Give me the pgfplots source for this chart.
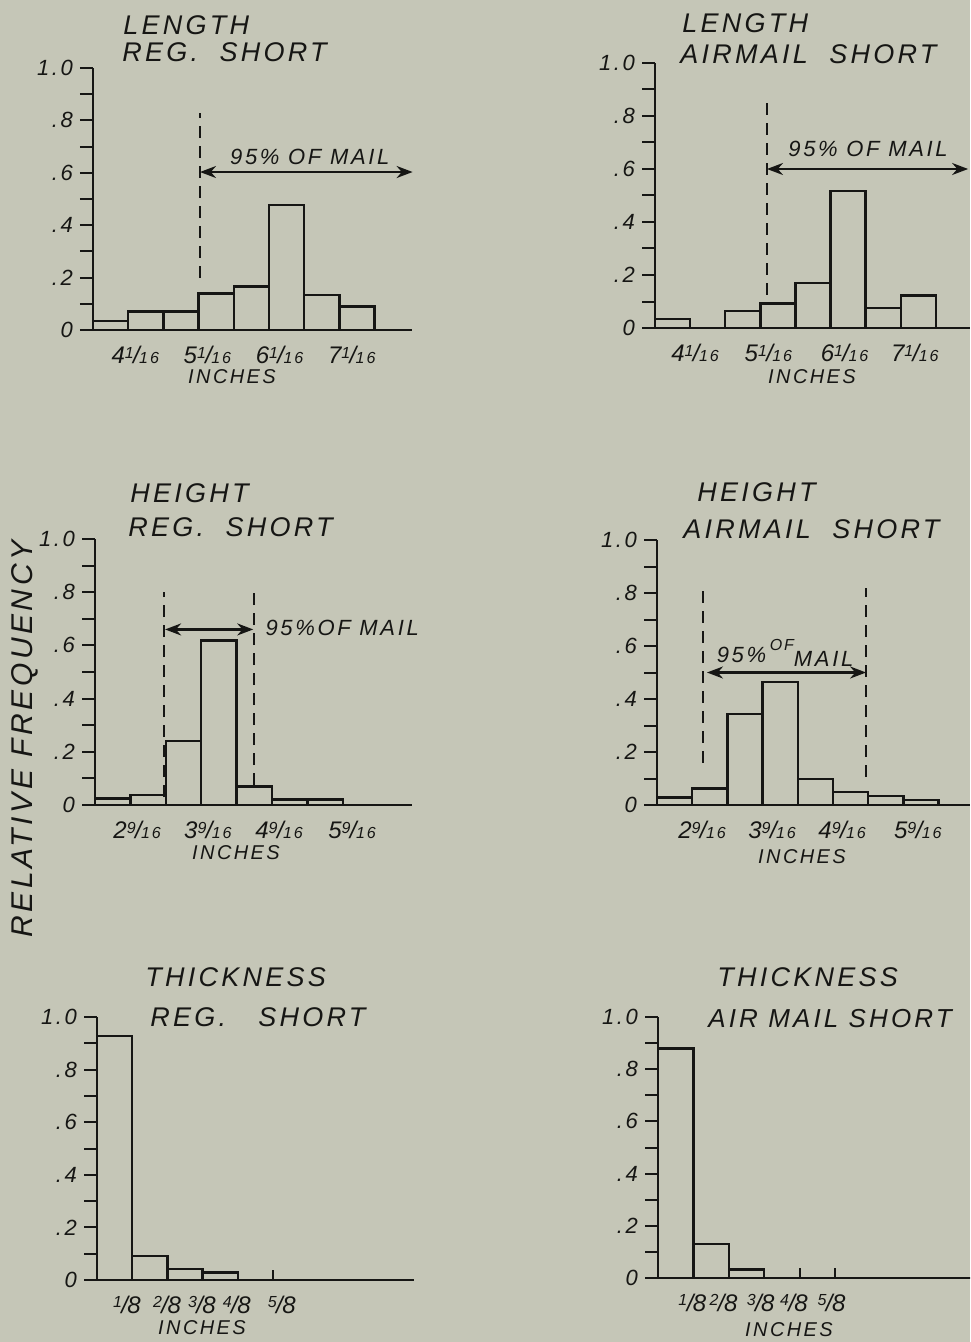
\documentclass[border=0pt]{standalone}
\usepackage{pgfplots}
\pgfplotsset{compat=1.18}
\usepackage{fontspec}
\setmainfont{Liberation Sans}
\newfontfamily\hand[LetterSpace=12]{Liberation Sans}
\usetikzlibrary{arrows.meta}
\definecolor{paper}{RGB}{197,198,183}
\definecolor{ink}{RGB}{22,22,20}
\newcommand\fs[1]{\fontsize{#1}{#1}\selectfont}
\newcommand\mfr[3]{#1{\fs{8}\raisebox{0.55ex}{#2}}\kern-0.3pt/\kern-0.3pt{\fs{8}#3}}
\newcommand\tfr[1]{{\fs{8}\raisebox{0.7ex}{#1}}\kern-0.3pt/\kern-0.3pt8}
\pgfplotsset{
  panel/.style={
    anchor=south west,
    xmin=0, ymin=0, ymax=1,
    axis lines=left,
    axis line style={-, line width=1.3pt, ink},
    ytick={0,0.1,0.2,0.3,0.4,0.5,0.6,0.7,0.8,0.9,1.0},
    yticklabels={0,,.2,,.4,,.6,,.8,,1.0},
    tick align=outside,
    major tick length=6.5pt,
    ytick style={line width=1pt, ink},
    xtick style={draw=none},
    yticklabel style={font=\hand\itshape\fs{11}, text=ink},
    xticklabel style={font=\hand\itshape\fs{12}, text=ink, yshift=2pt},
    clip=false,
  },
  bars/.style={ybar interval, draw=ink, fill=none, line width=1.2pt},
}
\tikzset{ttl/.style={anchor=west, font=\hand\itshape\fs{13.5}, text=ink, inner sep=0pt},
         inch/.style={font=\hand\itshape\fs{10}, text=ink, inner sep=0pt},
         dsh/.style={ink, line width=0.9pt, dash pattern=on 6pt off 4pt},
         arr/.style={ink, line width=1.1pt, {Stealth[length=8pt,width=6pt]}-{Stealth[length=8pt,width=6pt]}},
         ann/.style={font=\hand\itshape\fs{11}, text=ink}}
\begin{document}
\begin{tikzpicture}
\fill[paper] (0pt,0pt) rectangle (485pt,-671pt);
\useasboundingbox (0pt,0pt) rectangle (485pt,-671pt);
\clip (0pt,0pt) rectangle (485pt,-671pt);

% ---- Panel 1: Length, Reg. short
\begin{axis}[panel, at={(46.5pt,-165pt)}, x=17.6pt, y=131pt, xmax=9.05,
  xtick={1.2,3.25,5.3,7.35},
  xticklabels={\mfr{4}{1}{16},\mfr{5}{1}{16},\mfr{6}{1}{16},\mfr{7}{1}{16}}]
\addplot[bars] coordinates {(0,0.034) (1,0.07) (2,0.07) (3,0.14) (4,0.166) (5,0.478) (6,0.134) (7,0.089) (8,0)};
\draw[dsh] (axis cs:3.04,0.2) -- (axis cs:3.04,0.83);
\draw[arr] (axis cs:3.04,0.603) -- (axis cs:9.08,0.603);
\node[ann] at (axis cs:6.16,0.66) {95\% OF MAIL};
\end{axis}

% ---- Panel 2: Length, Airmail short
\begin{axis}[panel, at={(327.5pt,-164pt)}, x=17.55pt, y=132.5pt, xmax=8.97,
  xtick={1.14,3.23,5.4,7.4},
  xticklabels={\mfr{4}{1}{16},\mfr{5}{1}{16},\mfr{6}{1}{16},\mfr{7}{1}{16}}]
\addplot[bars] coordinates {(0,0.035) (1,0) (2,0.065) (3,0.092) (4,0.17) (5,0.516) (6,0.075) (7,0.123) (8,0)};
\draw[dsh] (axis cs:3.19,0.125) -- (axis cs:3.19,0.85);
\draw[arr] (axis cs:3.19,0.6) -- (axis cs:8.92,0.6);
\node[ann] at (axis cs:6.07,0.677) {95\% OF MAIL};
\end{axis}

% ---- Panel 3: Height, Reg. short
\begin{axis}[panel, at={(47.5pt,-402.5pt)}, x=17.7pt, y=133pt, xmax=8.95,
  xtick={1.19,3.19,5.2,7.26},
  xticklabels={\mfr{2}{9}{16},\mfr{3}{9}{16},\mfr{4}{9}{16},\mfr{5}{9}{16}}]
\addplot[bars] coordinates {(0,0.025) (1,0.038) (2,0.24) (3,0.618) (4,0.069) (5,0.021) (6,0.021) (7,0)};
\draw[dsh] (axis cs:1.95,0.03) -- (axis cs:1.95,0.8);
\draw[dsh] (axis cs:4.49,0.075) -- (axis cs:4.49,0.8);
\draw[arr] (axis cs:1.98,0.66) -- (axis cs:4.47,0.66);
\node[ann, anchor=west] at (axis cs:4.62,0.665) {95\%OF MAIL};
\end{axis}

% ---- Panel 4: Height, Airmail short
\begin{axis}[panel, at={(328.5pt,-402.5pt)}, x=17.6pt, y=132.5pt, xmax=8.9,
  xtick={1.28,3.27,5.26,7.41},
  xticklabels={\mfr{2}{9}{16},\mfr{3}{9}{16},\mfr{4}{9}{16},\mfr{5}{9}{16}}]
\addplot[bars] coordinates {(0,0.028) (1,0.063) (2,0.343) (3,0.465) (4,0.098) (5,0.05) (6,0.034) (7,0.019) (8,0)};
\draw[dsh] (axis cs:1.31,0.16) -- (axis cs:1.31,0.82);
\draw[dsh] (axis cs:5.94,0.106) -- (axis cs:5.94,0.82);
\draw[arr] (axis cs:1.42,0.50) -- (axis cs:5.94,0.50);
\node[ann, anchor=west] at (axis cs:1.5,0.575) {95\%\,\raisebox{1.1ex}{\fs{8}OF}\raisebox{-0.3ex}{MAIL}};
\end{axis}

% ---- Panel 5: Thickness, Reg. short
\begin{axis}[panel, at={(48.5pt,-640pt)}, x=17.6pt, y=131.5pt, xmax=9.0,
  xtick={0.85,1.99,2.98,3.97,5.25},
  xticklabels={\tfr{1},\tfr{2},\tfr{3},\tfr{4},\tfr{5}},
  extra x ticks={5}, extra x tick labels={},
  extra x tick style={tick align=inside, major tick length=5pt, xtick style={draw=ink, line width=1pt}}]
\addplot[bars] coordinates {(0,0.927) (1,0.091) (2,0.042) (3,0.029) (4,0)};
\end{axis}

% ---- Panel 6: Thickness, Airmail short
\begin{axis}[panel, at={(329pt,-639pt)}, x=17.7pt, y=130.5pt, xmax=8.85,
  xtick={0.97,1.85,2.9,3.84,4.9},
  xticklabels={\tfr{1},\tfr{2},\tfr{3},\tfr{4},\tfr{5}},
  extra x ticks={4,5}, extra x tick labels={},
  extra x tick style={tick align=inside, major tick length=5pt, xtick style={draw=ink, line width=1pt}}]
\addplot[bars] coordinates {(0,0.879) (1,0.131) (2,0.032) (3,0)};
\end{axis}

% ---- titles
\node[ttl] at (61.5pt,-12.5pt) {LENGTH};
\node[ttl] at (61pt,-26pt) {REG.\ \ SHORT};
\node[ttl] at (341pt,-11.5pt) {LENGTH};
\node[ttl] at (340pt,-27pt) {AIRMAIL\ \ SHORT};
\node[ttl] at (65pt,-246.5pt) {HEIGHT};
\node[ttl] at (64pt,-263.5pt) {REG.\ \ SHORT};
\node[ttl] at (348.5pt,-246pt) {HEIGHT};
\node[ttl] at (341.5pt,-264.5pt) {AIRMAIL\ \ SHORT};
\node[ttl] at (72.5pt,-488.5pt) {THICKNESS};
\node[ttl] at (75pt,-508.5pt) {REG.\ \ \ SHORT};
\node[ttl] at (358.5pt,-488.5pt) {THICKNESS};
\node[ttl, font=\hand\itshape\fs{13}] at (354pt,-509.5pt) {AIR MAIL SHORT};
% ---- INCHES
\node[inch] at (116pt,-188.5pt) {INCHES};
\node[inch] at (406pt,-188.5pt) {INCHES};
\node[inch] at (118pt,-426.5pt) {INCHES};
\node[inch] at (401pt,-428.5pt) {INCHES};
\node[inch] at (101pt,-664pt) {INCHES};
\node[inch] at (394.5pt,-665pt) {INCHES};
% ---- y label
\node[rotate=90, font=\hand\itshape\fs{15}, text=ink] at (12.5pt,-369.5pt) {RELATIVE FREQUENCY};
\end{tikzpicture}
\end{document}
